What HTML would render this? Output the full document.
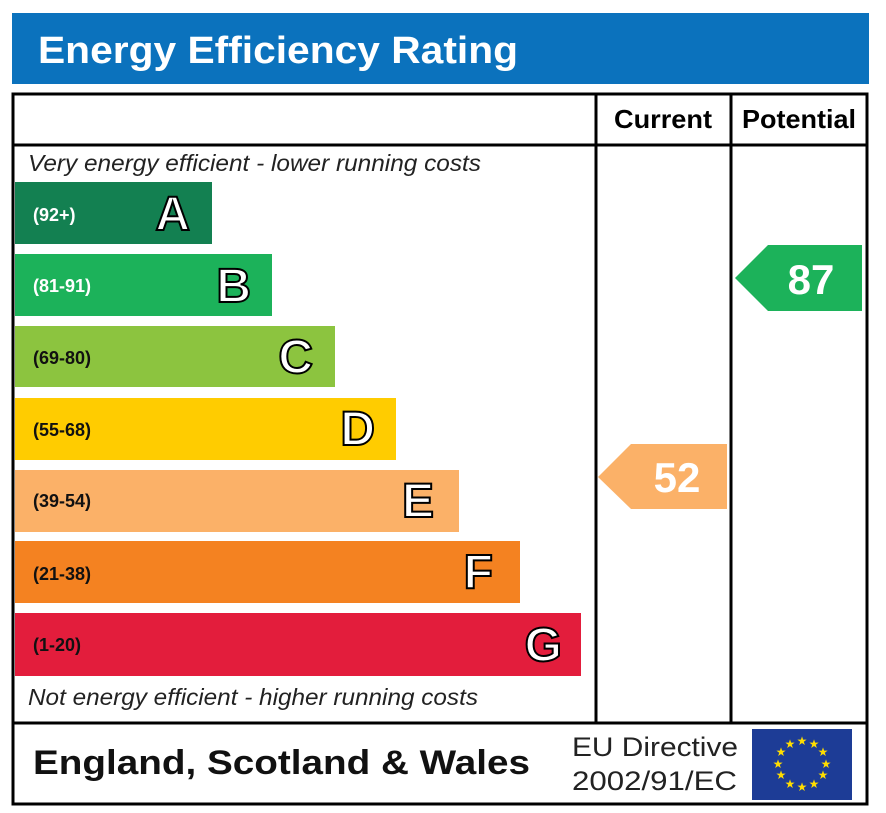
<!DOCTYPE html>
<html><head><meta charset="utf-8"><style>
html,body{margin:0;padding:0;background:#fff;width:886px;height:813px;overflow:hidden}
</style></head><body>
<svg width="886" height="813" viewBox="0 0 886 813" xmlns="http://www.w3.org/2000/svg" font-family="Liberation Sans, sans-serif">
<rect x="12" y="13" width="857" height="71" fill="#0b72bd"/>
<text x="38" y="63" fill="#fff" font-size="38" font-weight="bold" textLength="480" lengthAdjust="spacingAndGlyphs">Energy Efficiency Rating</text>
<rect x="13" y="94" width="854" height="710" fill="#fff" stroke="#000" stroke-width="3"/>
<line x1="13" y1="145" x2="867" y2="145" stroke="#000" stroke-width="3"/>
<line x1="13" y1="723" x2="867" y2="723" stroke="#000" stroke-width="3"/>
<line x1="596" y1="94" x2="596" y2="723" stroke="#000" stroke-width="3"/>
<line x1="731" y1="94" x2="731" y2="723" stroke="#000" stroke-width="3"/>
<text x="614" y="128" font-size="26" font-weight="bold" textLength="98" lengthAdjust="spacingAndGlyphs">Current</text>
<text x="742" y="128" font-size="26" font-weight="bold" textLength="114" lengthAdjust="spacingAndGlyphs">Potential</text>
<text x="28" y="171" font-size="23" font-style="italic" fill="#222" textLength="453" lengthAdjust="spacingAndGlyphs">Very energy efficient - lower running costs</text>
<text x="28" y="705" font-size="23" font-style="italic" fill="#222" textLength="450" lengthAdjust="spacingAndGlyphs">Not energy efficient - higher running costs</text>
<g font-weight="bold">
<rect x="15" y="182" width="197" height="62" fill="#138051"/>
<text x="33" y="221" font-size="18" fill="#fff">(92+)</text>
<text x="190" y="230" font-size="48" fill="#fff" stroke="#000" stroke-width="2" text-anchor="end">A</text>
<rect x="15" y="254" width="257" height="62" fill="#1cb25a"/>
<text x="33" y="292" font-size="18" fill="#fff">(81-91)</text>
<text x="251" y="302" font-size="48" fill="#fff" stroke="#000" stroke-width="2" text-anchor="end">B</text>
<rect x="15" y="326" width="320" height="61" fill="#8cc43f"/>
<text x="33" y="364" font-size="18" fill="#111">(69-80)</text>
<text x="313" y="373" font-size="48" fill="#fff" stroke="#000" stroke-width="2" text-anchor="end">C</text>
<rect x="15" y="398" width="381" height="62" fill="#ffcc00"/>
<text x="33" y="436" font-size="18" fill="#111">(55-68)</text>
<text x="375" y="445" font-size="48" fill="#fff" stroke="#000" stroke-width="2" text-anchor="end">D</text>
<rect x="15" y="470" width="444" height="62" fill="#fbb168"/>
<text x="33" y="507" font-size="18" fill="#111">(39-54)</text>
<text x="434" y="517" font-size="48" fill="#fff" stroke="#000" stroke-width="2" text-anchor="end">E</text>
<rect x="15" y="541" width="505" height="62" fill="#f48221"/>
<text x="33" y="580" font-size="18" fill="#111">(21-38)</text>
<text x="493" y="588" font-size="48" fill="#fff" stroke="#000" stroke-width="2" text-anchor="end">F</text>
<rect x="15" y="613" width="566" height="63" fill="#e31d3c"/>
<text x="33" y="651" font-size="18" fill="#111">(1-20)</text>
<text x="562" y="661" font-size="48" fill="#fff" stroke="#000" stroke-width="2" text-anchor="end">G</text>
<polygon points="598,477 631,444 727,444 727,509 631,509" fill="#fbb168"/>
<text x="677" y="492" font-size="42" fill="#fff" text-anchor="middle">52</text>
<polygon points="735,278 768,245 862,245 862,311 768,311" fill="#1cb25a"/>
<text x="811" y="294" font-size="42" fill="#fff" text-anchor="middle">87</text>
</g>
<text x="33" y="774" font-size="34" font-weight="bold" fill="#111" textLength="497" lengthAdjust="spacingAndGlyphs">England, Scotland &amp; Wales</text>
<text x="572" y="756" font-size="27" fill="#222" textLength="166" lengthAdjust="spacingAndGlyphs">EU Directive</text>
<text x="572" y="790" font-size="27" fill="#222" textLength="165" lengthAdjust="spacingAndGlyphs">2002/91/EC</text>
<rect x="752" y="729" width="100" height="71" fill="#1d3c96"/>
<g fill="#ffdd00" font-size="12" text-anchor="middle">
<text x="802" y="745">★</text><text x="814" y="748">★</text><text x="823" y="756">★</text>
<text x="826" y="768">★</text><text x="823" y="779">★</text><text x="814" y="788">★</text>
<text x="802" y="791">★</text><text x="790" y="788">★</text><text x="781" y="779">★</text>
<text x="778" y="768">★</text><text x="781" y="756">★</text><text x="790" y="748">★</text>
</g>
</svg>
</body></html>
